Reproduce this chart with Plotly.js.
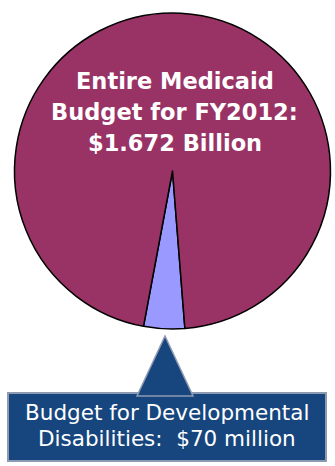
<!DOCTYPE html>
<html><head><meta charset="utf-8">
<script src="https://cdn.plot.ly/plotly-3.0.1.min.js"></script>
<style>html,body{margin:0;padding:0;background:#fff;}#chart{width:335px;height:466px;}</style>
</head><body><div id="chart"></div>
<script>
var categories = ["Budget for Developmental Disabilities", "Rest of Medicaid Budget"];
var values = [70, 1602];
var mainLines = ["Entire Medicaid", "Budget for FY2012:", "$1.672 Billion"];
var calloutLines = ["Budget for Developmental", "Disabilities:  $70 million"];

var W = 335, H = 466;
function px(x){return x / W;}
function py(y){return 1 - y / H;}

var trace = {
  type: 'pie',
  labels: categories,
  values: values,
  sort: false,
  direction: 'clockwise',
  rotation: 175.5,
  textinfo: 'none',
  hoverinfo: 'label+value',
  marker: {colors: ['#9999FF', '#993366'], line: {color: '#000000', width: 1.5}},
  domain: {x: [px(14.5), px(330.5)], y: [py(329), py(13)]},
  showlegend: false
};

var annotations = [];
var mainY = [81, 112, 143];
mainLines.forEach(function(t, i){
  annotations.push({xref: 'paper', yref: 'paper', x: px(175), y: py(mainY[i]), xanchor: 'center', yanchor: 'middle',
    text: t, showarrow: false,
    font: {family: 'DejaVu Sans', size: 22.5, color: '#ffffff', weight: 'bold'}});
});
var calloutY = [412, 438];
calloutLines.forEach(function(t, i){
  annotations.push({xref: 'paper', yref: 'paper', x: px(167), y: py(calloutY[i]), xanchor: 'center', yanchor: 'middle',
    text: t, showarrow: false,
    font: {family: 'DejaVu Sans', size: 21.5, color: '#ffffff'}});
});

var layout = {
  width: W, height: H,
  margin: {l: 0, r: 0, t: 0, b: 0},
  paper_bgcolor: '#ffffff',
  plot_bgcolor: '#ffffff',
  showlegend: false,
  shapes: [
    {type: 'rect', xref: 'paper', yref: 'paper',
     x0: px(8), x1: px(326), y0: py(461), y1: py(393),
     fillcolor: '#17467E', line: {color: '#8E9AB2', width: 2}},
    {type: 'path', xref: 'paper', yref: 'paper',
     path: 'M ' + px(137) + ' ' + py(396) + ' L ' + px(165) + ' ' + py(336) + ' L ' + px(193) + ' ' + py(396) + ' Z',
     fillcolor: '#17467E', line: {color: '#8E9AB2', width: 1.5}}
  ],
  annotations: annotations
};

Plotly.newPlot('chart', [trace], layout, {staticPlot: true, displayModeBar: false});
</script>
</body></html>
